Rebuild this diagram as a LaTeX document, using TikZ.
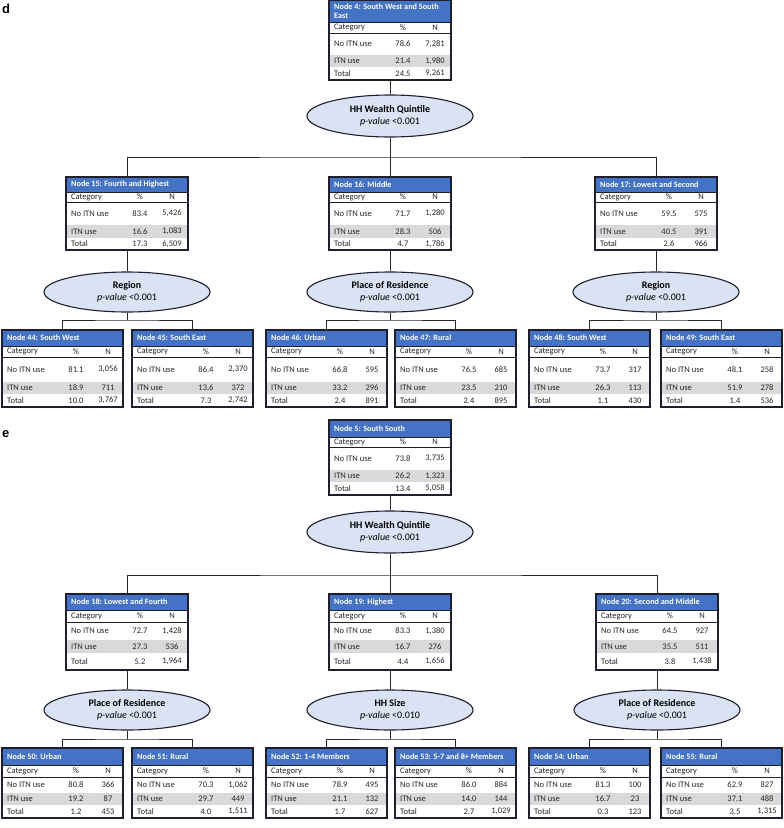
\documentclass[tikz,border=0pt]{standalone}
\usepackage{fontspec}
\setmainfont{Carlito}
\newfontfamily\labfont{Liberation Sans}
\usetikzlibrary{shapes.geometric}
\definecolor{titleblue}{HTML}{4472C4}
\definecolor{rowgray}{HTML}{D9D9D9}
\definecolor{ellfill}{HTML}{DAE3F3}
\definecolor{edge}{HTML}{1F1F2E}
\tikzset{
 boxline/.style={draw=edge, line width=1.3pt},
 sepline/.style={draw=edge, line width=0.9pt},
 titletext/.style={anchor=west, inner sep=0, text=white, font=\fontsize{8.2}{9}\selectfont\bfseries, align=left},
 celltext/.style={inner sep=0, font=\fontsize{8.5}{9.5}\selectfont, text=black!85},
 ell/.style={ellipse, draw=edge, line width=1.1pt, fill=ellfill, minimum width=166pt, minimum height=41pt, inner sep=0, align=center, font=\fontsize{10}{12}\selectfont},
 conn/.style={draw=black!85, line width=0.8pt},
 anchorbox/.style={inner sep=0, outer sep=0, draw=none},
 panel/.style={inner sep=0, font=\labfont\bfseries\fontsize{13}{13}\selectfont}
}
\def\W{122}\def\cP{74}\def\cN{106}
% #1 name, #2 top-left, #3 title, #4-#9 values
\newcommand\tbl[9]{%
\begin{scope}[shift={(#2)}]
\pgfmathsetmacro\yA{\hT}
\pgfmathsetmacro\yB{\hT+\hC}
\pgfmathsetmacro\yC{\yB+\hA}
\pgfmathsetmacro\yD{\yC+\hB}
\pgfmathsetmacro\yE{\yD+\hD}
\fill[white] (0,0) rectangle (\W,\yE);
\fill[titleblue] (0,0) rectangle (\W,\yA);
\fill[rowgray] (0,\yC) rectangle (\W,\yD);
\draw[sepline] (0,\yA) -- (\W,\yA);
\draw[sepline] (0,\yB) -- (\W,\yB);
\draw[boxline] (0,0) rectangle (\W,\yE);
\node[titletext] at (5,\yA/2) {#3};
\node[celltext, anchor=west] at (5,{(\yA+\yB)/2}) {Category};
\node[celltext] at (\cP,{(\yA+\yB)/2}) {\%};
\node[celltext] at (\cN,{(\yA+\yB)/2}) {N};
\node[celltext, anchor=west] at (5,{(\yB+\yC)/2}) {No ITN use};
\node[celltext] at (\cP,{(\yB+\yC)/2}) {#4};
\node[celltext] at (\cN,{(\yB+\yC)/2}) {#5};
\node[celltext, anchor=west] at (5,{(\yC+\yD)/2}) {ITN use};
\node[celltext] at (\cP,{(\yC+\yD)/2}) {#6};
\node[celltext] at (\cN,{(\yC+\yD)/2}) {#7};
\node[celltext, anchor=west] at (5,{(\yD+\yE)/2}) {Total};
\node[celltext] at (\cP,{(\yD+\yE)/2}) {#8};
\node[celltext] at (\cN,{(\yD+\yE)/2}) {#9};
\node[anchorbox, minimum width=\W pt, minimum height=\yE pt] (#1) at (\W/2,\yE/2) {};
\end{scope}}
\newcommand\elltext[2]{{\bfseries #1}\\\textit{p-value} <#2}

\begin{document}
\begin{tikzpicture}[x=1pt,y=-1pt]
\useasboundingbox (0,0) rectangle (784,828);
\fill[white] (0,0) rectangle (784,828);

\node[panel, anchor=base west] (labd) at (2,13) {d};
\node[panel, anchor=base west] (labe) at (2,437) {e};

% ---------- panel d ----------
\def\hT{22}\def\hC{11}\def\hA{22}\def\hB{12}\def\hD{13}
\tbl{n4}{329,0}{Node 4: South West and South\\East}{78.6}{7,281}{21.4}{1,980}{24.5}{9,261}

\node[ell, minimum height=42pt] (e4) at (390,116) {\elltext{HH Wealth Quintile}{0.001}};

\def\hT{15}\def\hC{10}\def\hA{23}\def\hB{13}\def\hD{12}
\tbl{n15}{66,177}{Node 15: Fourth and Highest}{83.4}{5,426}{16.6}{1,083}{17.3}{6,509}
\tbl{n16}{329,177}{Node 16: Middle}{71.7}{1,280}{28.3}{506}{4.7}{1,786}
\tbl{n17}{595,177}{Node 17: Lowest and Second}{59.5}{575}{40.5}{391}{2.6}{966}

\node[ell, minimum height=40pt] (e15) at (127,292) {\elltext{Region}{0.001}};
\node[ell, minimum height=40pt] (e16) at (390,292) {\elltext{Place of Residence}{0.001}};
\node[ell, minimum height=40pt] (e17) at (656,292) {\elltext{Region}{0.001}};

\def\W{121}
\def\hT{16}\def\hC{11}\def\hA{25}\def\hB{12}\def\hD{13}
\tbl{n44}{2,330}{Node 44: South West}{81.1}{3,056}{18.9}{711}{10.0}{3,767}
\tbl{n45}{132,330}{Node 45: South East}{86.4}{2,370}{13.6}{372}{7.3}{2,742}
\tbl{n46}{266,330}{Node 46: Urban}{66.8}{595}{33.2}{296}{2.4}{891}
\tbl{n47}{395,330}{Node 47: Rural}{76.5}{685}{23.5}{210}{2.4}{895}
\tbl{n48}{529,330}{Node 48: South West}{73.7}{317}{26.3}{113}{1.1}{430}
\tbl{n49}{661,330}{Node 49: South East}{48.1}{258}{51.9}{278}{1.4}{536}

\coordinate (h4) at (390,157);
\draw[conn] (n4.south) -- (e4.north);
\draw[conn] (e4.south) -- (h4);
\draw[conn] (n15.north) |- (h4) -| (n17.north);
\draw[conn] (n16.north) -- (h4);

\coordinate (h15) at (127,320);
\coordinate (h16) at (390,320);
\coordinate (h17) at (656,320);
\draw[conn] (n15.south) -- (e15.north);
\draw[conn] (n16.south) -- (e16.north);
\draw[conn] (n17.south) -- (e17.north);
\draw[conn] (e15.south) -- (h15);
\draw[conn] (e16.south) -- (h16);
\draw[conn] (e17.south) -- (h17);
\draw[conn] (n44.north) |- (h15) -| (n45.north);
\draw[conn] (n46.north) |- (h16) -| (n47.north);
\draw[conn] (n48.north) |- (h17) -| (n49.north);

% ---------- panel e ----------
\def\W{122}
\def\hT{17}\def\hC{10}\def\hA{23}\def\hB{12}\def\hD{13}
\tbl{n5}{329,420}{Node 5: South South}{73.8}{3,735}{26.2}{1,323}{13.4}{5,058}

\node[ell, minimum height=42pt] (e5) at (390,532) {\elltext{HH Wealth Quintile}{0.001}};

\def\hT{16}\def\hC{12}\def\hA{18}\def\hB{13}\def\hD{17}
\tbl{n18}{66,594}{Node 18: Lowest and Fourth}{72.7}{1,428}{27.3}{536}{5.2}{1,964}
\tbl{n19}{329,594}{Node 19: Highest}{83.3}{1,380}{16.7}{276}{4.4}{1,656}
\tbl{n20}{596,594}{Node 20: Second and Middle}{64.5}{927}{35.5}{511}{3.8}{1,438}

\node[ell, minimum height=40pt] (e18) at (127,710) {\elltext{Place of Residence}{0.001}};
\node[ell, minimum height=40pt] (e19) at (390,710) {\elltext{HH Size}{0.010}};
\node[ell, minimum height=40pt] (e20) at (657,710) {\elltext{Place of Residence}{0.001}};

\def\W{121}
\def\hT{17}\def\hC{12}\def\hA{16}\def\hB{12}\def\hD{13}
\tbl{n50}{2,748}{Node 50: Urban}{80.8}{366}{19.2}{87}{1.2}{453}
\tbl{n51}{132,748}{Node 51: Rural}{70.3}{1,062}{29.7}{449}{4.0}{1,511}
\tbl{n52}{266,748}{Node 52: 1-4 Members}{78.9}{495}{21.1}{132}{1.7}{627}
\tbl{n53}{395,748}{Node 53: 5-7 and 8+ Members}{86.0}{884}{14.0}{144}{2.7}{1,029}
\tbl{n54}{529,748}{Node 54: Urban}{81.3}{100}{16.7}{23}{0.3}{123}
\tbl{n55}{661,748}{Node 55: Rural}{62.9}{827}{37.1}{488}{3.5}{1,315}

\coordinate (h5) at (390,575);
\draw[conn] (n5.south) -- (e5.north);
\draw[conn] (e5.south) -- (h5);
\draw[conn] (n18.north) |- (h5) -| (n20.north);
\draw[conn] (n19.north) -- (h5);

\coordinate (h18) at (127,739);
\coordinate (h19) at (390,739);
\coordinate (h20) at (657,739);
\draw[conn] (n18.south) -- (e18.north);
\draw[conn] (n19.south) -- (e19.north);
\draw[conn] (n20.south) -- (e20.north);
\draw[conn] (e18.south) -- (h18);
\draw[conn] (e19.south) -- (h19);
\draw[conn] (e20.south) -- (h20);
\draw[conn] (n50.north) |- (h18) -| (n51.north);
\draw[conn] (n52.north) |- (h19) -| (n53.north);
\draw[conn] (n54.north) |- (h20) -| (n55.north);
\end{tikzpicture}
\end{document}
